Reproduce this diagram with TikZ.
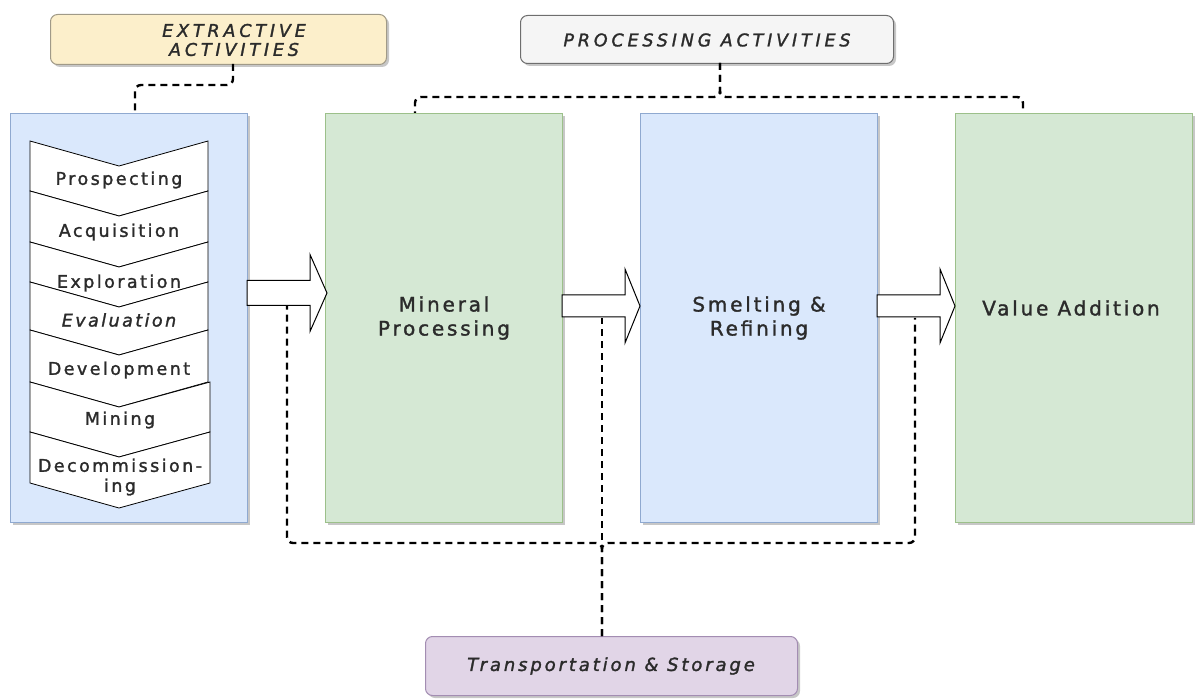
\documentclass[tikz,border=0pt]{standalone}
\usepackage{fontspec}
\newfontfamily\hand[FakeBold=1.5]{DejaVu Sans}
\usetikzlibrary{shadows,calc}
\definecolor{bluef}{HTML}{DAE8FC}
\definecolor{blued}{HTML}{8FA9D0}
\definecolor{greenf}{HTML}{D5E8D4}
\definecolor{greend}{HTML}{9CC08A}
\definecolor{yellowf}{HTML}{FCEFCB}
\definecolor{yellowd}{HTML}{A09A88}
\definecolor{greyf}{HTML}{F5F5F5}
\definecolor{greyd}{HTML}{6E6E6E}
\definecolor{purplef}{HTML}{E1D5E7}
\definecolor{purpled}{HTML}{A38DB2}
\definecolor{txt}{HTML}{2B2B2B}
\newcommand\blockarrow[6]{%
  \draw[barrow] (#1,#3-#4) -- (#6,#3-#4) -- (#6,#3-#5) -- (#2,#3) -- (#6,#3+#5) -- (#6,#3+#4) -- (#1,#3+#4) -- cycle;}
\begin{document}
\begin{tikzpicture}[x=1pt,y=-1pt,
  shad/.style={drop shadow={shadow xshift=2.5pt,shadow yshift=-2.5pt,opacity=0.22,fill=black}},
  bigbox/.style={shad, draw, line width=1pt, minimum width=237pt, minimum height=409pt,
    anchor=north west, inner sep=0pt, text=txt, align=center,
    font=\hand\addfontfeature{LetterSpace=14}\fontsize{20}{24}\selectfont},
  tagbox/.style={shad, draw, line width=1pt, rounded corners=7pt, anchor=north west, inner sep=0pt},
  tagtext/.style={text=txt, align=center, inner sep=0pt,
    font=\hand\itshape\addfontfeature{LetterSpace=22}\fontsize{17.5}{19}\selectfont},
  link/.style={draw=black, line width=2.4pt, dash pattern=on 7pt off 5pt, rounded corners=6pt},
  chev/.style={draw=black, line width=0.8pt, fill=white, line join=miter},
  chevtext/.style={text=txt, inner sep=0pt, align=center,
    font=\hand\addfontfeature{LetterSpace=14}\fontsize{17.5}{20}\selectfont},
  barrow/.style={draw=black, line width=1pt, fill=white, line join=miter}
]
\useasboundingbox (0,0) rectangle (1202,700);

% header tags
\node[tagbox, fill=yellowf, draw=yellowd, minimum width=336pt, minimum height=50pt] (exttag) at (50,14) {};
\node[tagtext] (extlabel) at (234,40) {EXTRACTIVE\\ACTIVITIES};
\node[tagbox, fill=greyf, draw=greyd, minimum width=373pt, minimum height=48pt] (prctag) at (520,15) {};
\node[tagtext] (prclabel) at (707,40) {PROCESSING ACTIVITIES};
\node[tagbox, fill=purplef, draw=purpled, minimum width=372pt, minimum height=59pt] (trtag) at (425,636) {};
\node[tagtext, font=\hand\itshape\addfontfeature{LetterSpace=16}\fontsize{18}{20}\selectfont] (trlabel) at (611,666) {Transportation \& Storage};

% main boxes
\node[bigbox, fill=bluef, draw=blued] (ext) at (10,113) {};
\node[bigbox, fill=greenf, draw=greend] (min) at (325,113) {Mineral\\Processing};
\node[bigbox, fill=bluef, draw=blued] (sme) at (640,113) {Smelting \&\\Refining};
\node[bigbox, fill=greenf, draw=greend] (val) at (955,113) {};
\node[text=txt, inner sep=0pt, font=\hand\addfontfeature{LetterSpace=14}\fontsize{20}{24}\selectfont] (vallabel) at (1071,308) {Value Addition};

% chevrons
\foreach \t/\b/\r in {141/191/208, 191/242/208, 242/282/208, 282/330/208, 330/382/208, 382/432/210, 432/483/210}
  \draw[chev] (30,\t) -- (119,\t+25) -- (\r,\t) -- (\r,\b) -- (119,\b+25) -- (30,\b) -- cycle;
\node[chevtext] (c1) at (119,180) {Prospecting};
\node[chevtext] (c2) at (119,232) {Acquisition};
\node[chevtext] (c3) at (119,283) {Exploration};
\node[chevtext, font=\hand\itshape\addfontfeature{LetterSpace=14}\fontsize{17.5}{20}\selectfont] (c4) at (119,320) {Evaluation};
\node[chevtext] (c5) at (119,370) {Development};
\node[chevtext] (c6) at (120,420) {Mining};
\node[chevtext] (c7) at (120,477) {Decommission-\\ing};

% block arrows
\blockarrow{247}{327}{293}{12.5}{38.5}{310}
\blockarrow{562}{640}{306}{11}{37}{625}
\blockarrow{877}{955}{306}{11}{37}{940}

% attachment coordinates
\coordinate (e1) at (233,64);
\coordinate (e2) at (135,113);
\coordinate (p0) at (720,63);
\coordinate (p1) at (415,113);
\coordinate (p2) at (1023,113);
\coordinate (t0) at (602,636);
\coordinate (a1) at (287,306);
\coordinate (a2) at (602,318);
\coordinate (a3) at (915,318);

% dashed connectors
\draw[link] (e1) -- (233,85) -- (135,85) -- (e2);
\draw[link] (p0) -- (720,97) -- (415,97) -- (p1);
\draw[link] (p0) -- (720,97) -- (1023,97) -- (p2);
\draw[link] (t0) -- (602,543) -- (287,543) -- (a1);
\draw[link] (t0) -- (602,543) -- (915,543) -- (a3);
\draw[link] (t0) -- (a2);
\end{tikzpicture}
\end{document}
